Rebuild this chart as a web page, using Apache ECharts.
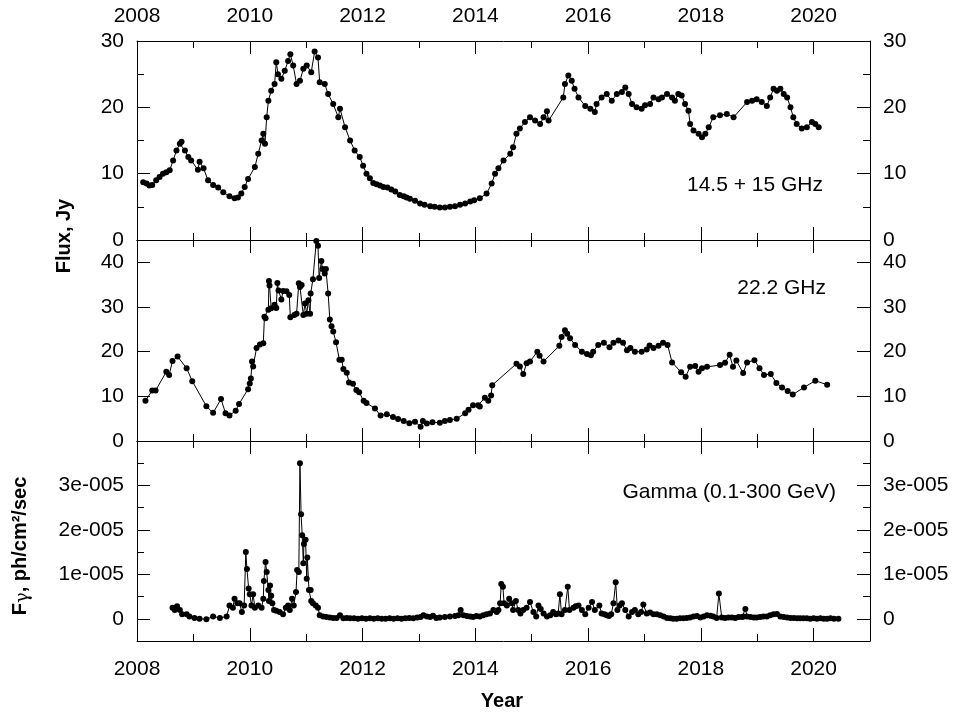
<!DOCTYPE html>
<html>
<head>
<meta charset="utf-8">
<script src="https://cdn.jsdelivr.net/npm/echarts@6/dist/echarts.min.js"></script>
<style>
  html, body { margin: 0; padding: 0; background: #fff; }
  #chart { width: 960px; height: 712px; }
</style>
</head>
<body>
<div id="chart"></div>
<script>
// 14.5 + 15 GHz light curve
const k15Years = [2008.11, 2008.17, 2008.22, 2008.27, 2008.34, 2008.40, 2008.46, 2008.52, 2008.58, 2008.64,
  2008.70, 2008.76, 2008.79, 2008.85, 2008.91, 2008.96, 2009.08, 2009.11, 2009.18, 2009.26,
  2009.35, 2009.44, 2009.53, 2009.64, 2009.73, 2009.79, 2009.85, 2009.91, 2009.97, 2010.09,
  2010.15, 2010.21, 2010.24, 2010.27, 2010.30, 2010.33, 2010.38, 2010.44, 2010.47, 2010.50,
  2010.56, 2010.62, 2010.68, 2010.72, 2010.77, 2010.83, 2010.89, 2010.95, 2011.01, 2011.09,
  2011.15, 2011.21, 2011.24, 2011.33, 2011.39, 2011.48, 2011.57, 2011.60, 2011.69, 2011.78,
  2011.86, 2011.95, 2012.01, 2012.07, 2012.13, 2012.19, 2012.25, 2012.31, 2012.37, 2012.44,
  2012.51, 2012.58, 2012.66, 2012.73, 2012.78, 2012.84, 2012.93, 2013.02, 2013.10, 2013.20,
  2013.28, 2013.37, 2013.46, 2013.55, 2013.64, 2013.73, 2013.82, 2013.91, 2013.98, 2014.08,
  2014.20, 2014.29, 2014.35, 2014.41, 2014.50, 2014.62, 2014.67, 2014.73, 2014.79, 2014.88,
  2014.97, 2015.06, 2015.15, 2015.21, 2015.27, 2015.30, 2015.56, 2015.59, 2015.65, 2015.71,
  2015.76, 2015.83, 2015.95, 2016.04, 2016.12, 2016.15, 2016.24, 2016.33, 2016.42, 2016.51,
  2016.60, 2016.66, 2016.72, 2016.78, 2016.86, 2016.95, 2017.01, 2017.10, 2017.16, 2017.25,
  2017.31, 2017.40, 2017.49, 2017.54, 2017.60, 2017.66, 2017.72, 2017.78, 2017.81, 2017.87,
  2017.96, 2018.02, 2018.08, 2018.14, 2018.22, 2018.34, 2018.46, 2018.58, 2018.82, 2018.91,
  2018.99, 2019.08, 2019.17, 2019.23, 2019.29, 2019.35, 2019.41, 2019.47, 2019.53, 2019.59,
  2019.64, 2019.70, 2019.79, 2019.88, 2019.97, 2020.03, 2020.09];
const k15Flux = [8.7, 8.5, 8.2, 8.3, 9.0, 9.5, 10.0, 10.2, 10.5, 12.0,
  13.5, 14.5, 14.8, 13.5, 12.5, 12.0, 10.6, 11.8, 10.8, 9.0,
  8.3, 7.9, 7.2, 6.6, 6.3, 6.4, 7.0, 8.0, 9.2, 11.0,
  13.0, 15.0, 16.0, 14.5, 18.5, 21.0, 22.5, 23.5, 26.8, 25.0,
  24.3, 25.5, 27.0, 28.0, 26.3, 23.5, 24.0, 25.8, 26.3, 25.3,
  28.4, 27.5, 23.8, 23.5, 22.0, 20.5, 18.5, 19.8, 17.0, 15.0,
  13.5, 12.5, 11.2, 10.0, 9.3, 8.6, 8.4, 8.2, 8.0, 7.9,
  7.6, 7.3, 6.8, 6.6, 6.4, 6.2, 5.9, 5.5, 5.3, 5.1,
  5.0, 4.9, 4.9, 5.0, 5.1, 5.3, 5.5, 5.8, 6.0, 6.3,
  7.0, 8.5, 10.0, 10.8, 12.0, 13.0, 14.0, 16.0, 16.8, 17.8,
  18.5, 18.0, 17.5, 18.5, 19.4, 18.0, 21.5, 23.5, 24.8, 24.0,
  22.8, 21.5, 20.2, 19.8, 19.3, 20.5, 21.5, 22.0, 21.0, 22.0,
  22.3, 23.0, 22.0, 20.5, 20.0, 19.8, 20.3, 20.5, 21.5, 21.2,
  21.5, 22.0, 21.5, 21.0, 22.0, 21.8, 20.5, 19.5, 17.5, 16.5,
  16.0, 15.5, 16.0, 17.0, 18.5, 18.8, 19.0, 18.5, 20.8, 21.0,
  21.2, 20.8, 20.2, 21.5, 22.8, 22.5, 22.8, 22.0, 21.5, 20.0,
  18.5, 17.5, 16.8, 17.0, 17.8, 17.5, 17.0];

// 22.2 GHz light curve
const k22Years = [2008.15, 2008.27, 2008.33, 2008.52, 2008.57, 2008.63, 2008.72, 2008.88, 2008.98, 2009.23,
  2009.35, 2009.49, 2009.57, 2009.64, 2009.75, 2009.81, 2009.97, 2010.00, 2010.02, 2010.04,
  2010.06, 2010.12, 2010.18, 2010.24, 2010.26, 2010.28, 2010.33, 2010.34, 2010.35, 2010.38,
  2010.44, 2010.47, 2010.49, 2010.51, 2010.56, 2010.59, 2010.65, 2010.70, 2010.72, 2010.79,
  2010.83, 2010.87, 2010.89, 2010.92, 2010.95, 2010.98, 2011.01, 2011.04, 2011.07, 2011.08,
  2011.12, 2011.18, 2011.21, 2011.23, 2011.27, 2011.29, 2011.33, 2011.35, 2011.39, 2011.42,
  2011.45, 2011.48, 2011.53, 2011.59, 2011.63, 2011.66, 2011.72, 2011.76, 2011.83, 2011.89,
  2011.94, 2012.02, 2012.07, 2012.22, 2012.32, 2012.43, 2012.54, 2012.63, 2012.73, 2012.83,
  2012.93, 2013.03, 2013.07, 2013.14, 2013.24, 2013.37, 2013.46, 2013.55, 2013.67, 2013.82,
  2013.88, 2013.96, 2014.05, 2014.08, 2014.17, 2014.23, 2014.28, 2014.30, 2014.73, 2014.79,
  2014.85, 2014.91, 2014.97, 2015.10, 2015.14, 2015.21, 2015.49, 2015.53, 2015.59, 2015.63,
  2015.68, 2015.77, 2015.89, 2015.98, 2016.05, 2016.09, 2016.18, 2016.28, 2016.38, 2016.45,
  2016.54, 2016.62, 2016.69, 2016.75, 2016.83, 2016.95, 2017.04, 2017.09, 2017.16, 2017.25,
  2017.33, 2017.41, 2017.49, 2017.65, 2017.73, 2017.81, 2017.90, 2017.96, 2018.02, 2018.11,
  2018.34, 2018.43, 2018.51, 2018.57, 2018.63, 2018.75, 2018.82, 2018.95, 2019.04, 2019.12,
  2019.24, 2019.34, 2019.44, 2019.54, 2019.63, 2019.83, 2020.03, 2020.24];
const k22Flux = [9.0, 11.3, 11.3, 15.5, 14.8, 17.9, 18.9, 16.3, 13.4, 7.8,
  6.3, 9.4, 6.2, 5.7, 6.8, 8.3, 11.6, 12.9, 14.0, 17.8,
  16.7, 20.8, 21.6, 21.9, 27.8, 27.5, 29.4, 35.8, 34.8, 29.7,
  30.5, 29.8, 35.4, 33.7, 31.7, 33.6, 33.5, 32.7, 27.7, 28.2,
  28.5, 35.3, 34.5, 34.9, 28.2, 30.8, 28.5, 31.5, 28.5, 33.0,
  36.2, 44.8, 43.7, 36.5, 40.3, 38.5, 37.5, 38.5, 33.0, 27.2,
  25.7, 24.5, 22.1, 18.2, 18.2, 16.1, 15.3, 13.1, 12.8, 11.4,
  10.9, 9.0, 8.5, 7.3, 5.7, 6.0, 5.4, 4.9, 4.5, 4.0,
  4.3, 3.2, 4.5, 3.9, 4.2, 4.1, 4.5, 4.7, 5.0, 6.2,
  7.0, 8.0, 8.0, 7.7, 9.7, 9.0, 10.2, 12.5, 17.3, 16.7,
  15.0, 17.4, 17.8, 20.0, 19.1, 17.8, 21.3, 23.3, 24.8, 24.0,
  23.0, 21.5, 20.0, 19.5, 19.2, 20.0, 21.5, 22.0, 21.0, 22.0,
  22.5, 22.0, 20.3, 20.8, 20.0, 20.0, 20.5, 21.4, 20.8, 21.3,
  22.0, 21.5, 17.6, 15.4, 14.4, 16.6, 16.8, 15.5, 16.3, 16.6,
  17.0, 17.5, 19.3, 16.6, 18.0, 15.2, 17.6, 18.1, 16.3, 14.8,
  15.0, 13.0, 12.0, 11.2, 10.4, 12.0, 13.5, 12.6];

// Gamma (0.1-300 GeV) photon flux, ph/cm2/sec
const gammaYears = [2008.63, 2008.67, 2008.71, 2008.76, 2008.80, 2008.88, 2008.93, 2009.02, 2009.11, 2009.23,
  2009.35, 2009.47, 2009.59, 2009.64, 2009.70, 2009.73, 2009.78, 2009.82, 2009.86, 2009.90,
  2009.93, 2009.95, 2009.98, 2010.00, 2010.03, 2010.06, 2010.09, 2010.15, 2010.21, 2010.24,
  2010.25, 2010.28, 2010.30, 2010.33, 2010.34, 2010.36, 2010.38, 2010.40, 2010.43, 2010.47,
  2010.53, 2010.59, 2010.64, 2010.68, 2010.71, 2010.75, 2010.78, 2010.82, 2010.84, 2010.87,
  2010.89, 2010.91, 2010.93, 2010.95, 2010.96, 2010.99, 2011.01, 2011.02, 2011.05, 2011.08,
  2011.09, 2011.12, 2011.17, 2011.21, 2011.24, 2011.30, 2011.36, 2011.42, 2011.48, 2011.54,
  2011.60, 2011.66, 2011.72, 2011.78, 2011.85, 2011.92, 2011.99, 2012.06, 2012.13, 2012.20,
  2012.27, 2012.34, 2012.41, 2012.48, 2012.55, 2012.62, 2012.69, 2012.76, 2012.83, 2012.90,
  2012.97, 2013.03, 2013.08, 2013.14, 2013.20, 2013.25, 2013.31, 2013.37, 2013.46, 2013.55,
  2013.64, 2013.70, 2013.74, 2013.79, 2013.85, 2013.91, 2013.96, 2014.02, 2014.08, 2014.14,
  2014.20, 2014.26, 2014.32, 2014.38, 2014.41, 2014.44, 2014.46, 2014.49, 2014.51, 2014.56,
  2014.60, 2014.65, 2014.67, 2014.72, 2014.76, 2014.80, 2014.85, 2014.91, 2014.97, 2015.03,
  2015.08, 2015.12, 2015.16, 2015.21, 2015.27, 2015.33, 2015.38, 2015.43, 2015.47, 2015.50,
  2015.53, 2015.59, 2015.64, 2015.67, 2015.74, 2015.78, 2015.83, 2015.89, 2015.95, 2016.01,
  2016.07, 2016.12, 2016.20, 2016.24, 2016.29, 2016.33, 2016.37, 2016.41, 2016.45, 2016.49,
  2016.52, 2016.56, 2016.60, 2016.66, 2016.72, 2016.78, 2016.83, 2016.89, 2016.94, 2016.98,
  2017.04, 2017.10, 2017.16, 2017.22, 2017.28, 2017.34, 2017.40, 2017.46, 2017.51, 2017.57,
  2017.63, 2017.69, 2017.75, 2017.81, 2017.87, 2017.93, 2017.99, 2018.05, 2018.11, 2018.17,
  2018.22, 2018.28, 2018.32, 2018.37, 2018.43, 2018.49, 2018.55, 2018.61, 2018.67, 2018.73,
  2018.76, 2018.79, 2018.82, 2018.88, 2018.94, 2018.99, 2019.05, 2019.11, 2019.17, 2019.23,
  2019.29, 2019.35, 2019.41, 2019.47, 2019.53, 2019.59, 2019.65, 2019.71, 2019.76, 2019.82,
  2019.88, 2019.94, 2020.00, 2020.06, 2020.12, 2020.18, 2020.24, 2020.30, 2020.36, 2020.44];
const gammaFlux = [0.25e-5, 0.2e-5, 0.28e-5, 0.2e-5, 0.1e-5, 0.1e-5, 0.05e-5, 0.02e-5, 0.0, -0.01e-5,
  0.05e-5, 0.02e-5, 0.05e-5, 0.3e-5, 0.25e-5, 0.45e-5, 0.35e-5, 0.35e-5, 0.15e-5, 0.3e-5,
  1.5e-5, 1.12e-5, 0.68e-5, 0.55e-5, 0.3e-5, 0.55e-5, 0.25e-5, 0.3e-5, 0.25e-5, 0.45e-5,
  0.85e-5, 1.28e-5, 1.05e-5, 0.65e-5, 0.4e-5, 0.75e-5, 0.52e-5, 0.35e-5, 0.2e-5, 0.18e-5,
  0.15e-5, 0.1e-5, 0.25e-5, 0.3e-5, 0.2e-5, 0.45e-5, 0.3e-5, 0.6e-5, 1.1e-5, 1.05e-5,
  3.5e-5, 2.35e-5, 1.88e-5, 1.25e-5, 1.68e-5, 1.78e-5, 0.9e-5, 1.38e-5, 0.65e-5, 0.65e-5,
  0.4e-5, 0.35e-5, 0.3e-5, 0.25e-5, 0.08e-5, 0.05e-5, 0.04e-5, 0.03e-5, 0.02e-5, 0.02e-5,
  0.08e-5, 0.01e-5, 0.02e-5, 0.01e-5, 0.01e-5, 0.0, 0.01e-5, 0.0, 0.01e-5, 0.0,
  0.01e-5, 0.0, 0.0, 0.01e-5, 0.0, 0.01e-5, 0.0, 0.01e-5, 0.02e-5, 0.01e-5,
  0.03e-5, 0.04e-5, 0.08e-5, 0.05e-5, 0.04e-5, 0.07e-5, 0.02e-5, 0.03e-5, 0.04e-5, 0.05e-5,
  0.06e-5, 0.08e-5, 0.2e-5, 0.08e-5, 0.06e-5, 0.05e-5, 0.04e-5, 0.06e-5, 0.05e-5, 0.08e-5,
  0.1e-5, 0.12e-5, 0.2e-5, 0.15e-5, 0.2e-5, 0.35e-5, 0.78e-5, 0.72e-5, 0.35e-5, 0.3e-5,
  0.45e-5, 0.35e-5, 0.2e-5, 0.4e-5, 0.2e-5, 0.12e-5, 0.2e-5, 0.25e-5, 0.38e-5, 0.15e-5,
  0.05e-5, 0.3e-5, 0.22e-5, 0.12e-5, 0.05e-5, 0.08e-5, 0.15e-5, 0.1e-5, 0.12e-5, 0.55e-5,
  0.1e-5, 0.2e-5, 0.72e-5, 0.2e-5, 0.25e-5, 0.28e-5, 0.3e-5, 0.2e-5, 0.1e-5, 0.25e-5,
  0.38e-5, 0.2e-5, 0.3e-5, 0.12e-5, 0.1e-5, 0.08e-5, 0.06e-5, 0.1e-5, 0.35e-5, 0.82e-5,
  0.2e-5, 0.3e-5, 0.35e-5, 0.2e-5, 0.05e-5, 0.15e-5, 0.2e-5, 0.1e-5, 0.15e-5, 0.32e-5,
  0.12e-5, 0.14e-5, 0.1e-5, 0.1e-5, 0.08e-5, 0.05e-5, 0.02e-5, 0.01e-5, 0.0, 0.0,
  0.01e-5, 0.01e-5, 0.02e-5, 0.03e-5, 0.05e-5, 0.06e-5, 0.03e-5, 0.05e-5, 0.08e-5, 0.07e-5,
  0.05e-5, 0.02e-5, 0.57e-5, 0.03e-5, 0.02e-5, 0.03e-5, 0.03e-5, 0.02e-5, 0.04e-5, 0.04e-5,
  0.05e-5, 0.22e-5, 0.05e-5, 0.04e-5, 0.03e-5, 0.03e-5, 0.04e-5, 0.05e-5, 0.05e-5, 0.08e-5,
  0.1e-5, 0.11e-5, 0.05e-5, 0.04e-5, 0.03e-5, 0.02e-5, 0.02e-5, 0.01e-5, 0.01e-5, 0.01e-5,
  0.01e-5, 0.0, 0.01e-5, 0.0, 0.01e-5, 0.0, 0.0, 0.01e-5, 0.0, 0.0];

// Tick positions and labels
const yearMajor = [2008, 2010, 2012, 2014, 2016, 2018, 2020];
const yearMinor = [2009, 2011, 2013, 2015, 2017, 2019];
const k15Major = [0, 10, 20, 30];
const k15Minor = [5, 15, 25];
const k22Major = [0, 10, 20, 30, 40];
const gammaMajor = [0, 1e-5, 2e-5, 3e-5];
const gammaMinor = [-0.5e-5, 0.5e-5, 1.5e-5, 2.5e-5, 3.5e-5];
const gammaLabels = ['0', '1e-005', '2e-005', '3e-005'];

const FONT = "'Liberation Sans', Arial, sans-serif";
const panels = [
  { top: 41, height: 199, min: 0, max: 30, major: k15Major, minor: k15Minor, labels: null },
  { top: 240, height: 201, min: 0, max: 45, major: k22Major, minor: [], labels: null },
  { top: 441, height: 200, min: -0.5e-5, max: 4e-5, major: gammaMajor, minor: gammaMinor, labels: gammaLabels }
];

function tickAxis(gridIndex, position, min, max, ticks, len, label, margin, fmt) {
  return {
    type: 'value',
    gridIndex: gridIndex,
    position: position,
    min: min,
    max: max,
    axisLine: { show: len > 8, onZero: false, lineStyle: { color: '#000', width: 1 } },
    axisTick: { show: true, inside: true, length: len, customValues: ticks, lineStyle: { color: '#000', width: 1 } },
    axisLabel: {
      show: label,
      customValues: ticks,
      margin: margin,
      color: '#000',
      fontFamily: FONT,
      fontSize: 21,
      formatter: fmt || function (v) { return String(v); }
    },
    splitLine: { show: false }
  };
}

const grids = [];
const xAxes = [];
const yAxes = [];
panels.forEach(function (p, g) {
  grids.push({ left: 137, right: 90, top: p.top, height: p.height });
  // x axes: bottom major, top major, bottom minor, top minor
  xAxes.push(tickAxis(g, 'bottom', 2008, 2021, yearMajor, 13, g === 2, 18));
  xAxes.push(tickAxis(g, 'top', 2008, 2021, yearMajor, 13, g === 0, 14));
  xAxes.push(tickAxis(g, 'bottom', 2008, 2021, yearMinor, 7, false, 0));
  xAxes.push(tickAxis(g, 'top', 2008, 2021, yearMinor, 7, false, 0));
  const fmt = p.labels ? function (v) { return p.labels[p.major.indexOf(v)]; } : null;
  yAxes.push(tickAxis(g, 'left', p.min, p.max, p.major, 13, true, 13, fmt));
  yAxes.push(tickAxis(g, 'right', p.min, p.max, p.major, 13, true, 13, fmt));
  yAxes.push(tickAxis(g, 'left', p.min, p.max, p.minor, 7, false, 0));
  yAxes.push(tickAxis(g, 'right', p.min, p.max, p.minor, 7, false, 0));
});

function pairs(xs, ys) {
  return xs.map(function (x, i) { return [x, ys[i]]; });
}

function lineSeries(g, xs, ys) {
  return {
    type: 'line',
    xAxisIndex: g * 4,
    yAxisIndex: g * 4,
    data: pairs(xs, ys),
    symbol: 'circle',
    symbolSize: 6,
    showSymbol: true,
    itemStyle: { color: '#000' },
    lineStyle: { color: '#000', width: 1 },
    animation: false,
    clip: false
  };
}

const chart = echarts.init(document.getElementById('chart'), null, { renderer: 'canvas' });
chart.setOption({
  backgroundColor: '#fff',
  animation: false,
  grid: grids,
  xAxis: xAxes,
  yAxis: yAxes,
  series: [
    lineSeries(0, k15Years, k15Flux),
    lineSeries(1, k22Years, k22Flux),
    lineSeries(2, gammaYears, gammaFlux)
  ],
  graphic: [
    { type: 'text', x: 823, y: 185, style: { text: '14.5 + 15 GHz', font: '21px ' + FONT, fill: '#000', textAlign: 'right', textVerticalAlign: 'middle' } },
    { type: 'text', x: 826, y: 288, style: { text: '22.2 GHz', font: '21px ' + FONT, fill: '#000', textAlign: 'right', textVerticalAlign: 'middle' } },
    { type: 'text', x: 836, y: 492, style: { text: 'Gamma (0.1-300 GeV)', font: '21px ' + FONT, fill: '#000', textAlign: 'right', textVerticalAlign: 'middle' } },
    { type: 'text', x: 64, y: 236, rotation: Math.PI / 2, style: { text: 'Flux, Jy', font: 'bold 20px ' + FONT, fill: '#000', textAlign: 'center', textVerticalAlign: 'middle' } },
    {
      type: 'text', x: 20, y: 546, rotation: Math.PI / 2,
      style: {
        text: '{b|F}{g|γ}{b|, ph/cm²/sec}',
        textAlign: 'center', textVerticalAlign: 'middle',
        rich: {
          b: { font: 'bold 20px ' + FONT, fill: '#000' },
          g: { font: '18px "DejaVu Serif", serif', fill: '#000', padding: [6, 0, 0, 0] }
        }
      }
    },
    { type: 'text', x: 502, y: 701, style: { text: 'Year', font: 'bold 20px ' + FONT, fill: '#000', textAlign: 'center', textVerticalAlign: 'middle' } }
  ]
});
</script>
</body>
</html>
